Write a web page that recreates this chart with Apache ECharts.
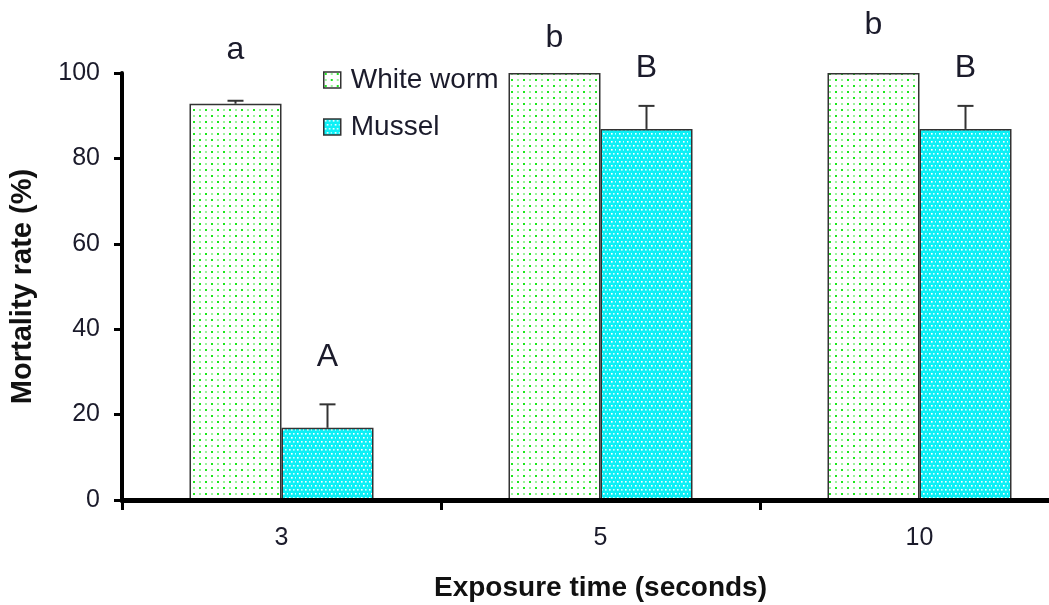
<!DOCTYPE html>
<html>
<head>
<meta charset="utf-8">
<script src="https://cdn.jsdelivr.net/npm/echarts@6/dist/echarts.min.js"></script>
<style>
  html, body { margin: 0; padding: 0; background: #fff; }
  #chart { width: 1049px; height: 605px; }
</style>
</head>
<body>
<div id="chart"></div>
<script>
// exposure time categories and mortality (%)
var categories = ['3', '5', '10'];
var seriesNames = ['White worm', 'Mussel'];
var whiteWorm = [92.8, 100, 100];
var whiteWormErr = [0.7, 0, 0];
var mussel = [16.9, 86.9, 86.9];
var musselErr = [5.5, 5.4, 5.4];
var yTicks = [0, 20, 40, 60, 80, 100];

// significance letters: category, bar (0 = white worm, 1 = mussel), height in %, text
var letterCat = [0, 1, 2, 0, 1, 2];
var letterBar = [0, 0, 0, 1, 1, 1];
var letterY = [105.4, 108.2, 111.2, 33.5, 101.2, 101.2];
var letterText = ['a', 'b', 'b', 'A', 'B', 'B'];

var BAR_W = 92;

function makePattern(bg, dots, size, dot) {
    var c = document.createElement('canvas');
    c.width = size; c.height = size;
    var ctx = c.getContext('2d');
    ctx.fillStyle = bg;
    ctx.fillRect(0, 0, size, size);
    dots.forEach(function (d) {
        ctx.fillStyle = d[2];
        ctx.fillRect(d[0], d[1], dot, dot);
    });
    return { image: c, repeat: 'repeat' };
}

var wormFill = makePattern('#ffffff', [
    [1, 1, '#1ee61e'], [7, 7, '#1ee61e'], [7, 1, '#9cf29c'], [1, 7, '#9cf29c']
], 12, 2);
var musselFill = makePattern('#0cf0f6', [
    [1, 1, '#ffffff'], [5, 1, '#d8feff'], [3, 5, '#ffffff'], [7, 5, '#d8feff']
], 8, 1.6);

var chart = echarts.init(document.getElementById('chart'));

function errItem(offset) {
    return function (params, api) {
        var top = api.value(1) + api.value(2);
        if (api.value(2) <= 0) return null;
        var p0 = api.coord([api.value(0), api.value(1)]);
        var p1 = api.coord([api.value(0), top]);
        var x = p0[0] + offset;
        var style = { stroke: '#333', lineWidth: 2 };
        return {
            type: 'group',
            children: [
                { type: 'line', shape: { x1: x, y1: p0[1], x2: x, y2: p1[1] }, style: style },
                { type: 'line', shape: { x1: x - 8, y1: p1[1], x2: x + 8, y2: p1[1] }, style: style }
            ]
        };
    };
}

var option = {
    animation: false,
    backgroundColor: '#fff',
    grid: { left: 122, right: -30, top: 73, bottom: 105, containLabel: false, outerBoundsMode: 'none' },
    legend: {
        orient: 'vertical',
        left: 323,
        top: 66,
        padding: 0,
        itemWidth: 17,
        itemHeight: 16,
        itemGap: 19,
        icon: 'rect',
        itemStyle: { borderColor: '#333', borderWidth: 1.5 },
        textStyle: { fontFamily: 'Liberation Sans, Arial', fontSize: 28, color: '#1b1b2b', padding: [0, 0, 0, 5] },
        data: seriesNames
    },
    xAxis: {
        type: 'category',
        data: categories,
        z: 5,
        name: 'Exposure time (seconds)',
        nameLocation: 'middle',
        nameGap: 74,
        nameTextStyle: { fontFamily: 'Liberation Sans, Arial', fontWeight: 'bold', fontSize: 28, color: '#111' },
        axisLine: { lineStyle: { color: '#000', width: 5 } },
        axisTick: { show: true, length: 10, lineStyle: { color: '#000', width: 3 } },
        axisLabel: { margin: 26, fontFamily: 'Liberation Sans, Arial', fontSize: 25, color: '#1b1b2b' }
    },
    yAxis: {
        type: 'value',
        min: 0,
        max: 100,
        interval: 20,
        z: 5,
        name: 'Mortality rate (%)',
        nameLocation: 'middle',
        nameGap: 85,
        nameTextStyle: { fontFamily: 'Liberation Sans, Arial', fontWeight: 'bold', fontSize: 29, color: '#111' },
        axisLine: { show: true, lineStyle: { color: '#000', width: 4 } },
        axisTick: { show: true, length: 8, lineStyle: { color: '#000', width: 3 } },
        axisLabel: {
            margin: 22,
            fontFamily: 'Liberation Sans, Arial',
            fontSize: 25,
            color: '#1b1b2b',
            formatter: function (v) { return yTicks.indexOf(v) >= 0 ? String(v) : ''; }
        },
        splitLine: { show: false }
    },
    series: [
        {
            name: seriesNames[0],
            type: 'bar',
            barWidth: BAR_W,
            barGap: '0%',
            itemStyle: { color: wormFill, borderColor: '#333', borderWidth: 1.5 },
            data: whiteWorm
        },
        {
            name: seriesNames[1],
            type: 'bar',
            barWidth: BAR_W,
            barGap: '0%',
            itemStyle: { color: musselFill, borderColor: '#333', borderWidth: 1.5 },
            data: mussel
        },
        {
            type: 'custom',
            z: 4,
            renderItem: errItem(-BAR_W / 2),
            data: whiteWorm.map(function (v, i) { return [i, v, whiteWormErr[i]]; })
        },
        {
            type: 'custom',
            z: 4,
            renderItem: errItem(BAR_W / 2),
            data: mussel.map(function (v, i) { return [i, v, musselErr[i]]; })
        },
        {
            type: 'custom',
            z: 6,
            clip: false,
            renderItem: function (params, api) {
                var i = params.dataIndex;
                var p = api.coord([api.value(0), api.value(1)]);
                var off = letterBar[i] === 0 ? -BAR_W / 2 : BAR_W / 2;
                return {
                    type: 'text',
                    x: p[0] + off,
                    y: p[1],
                    style: {
                        text: letterText[i],
                        fill: '#1b1b2b',
                        font: '32px "Liberation Sans", Arial',
                        textAlign: 'center',
                        textVerticalAlign: 'middle'
                    }
                };
            },
            data: letterCat.map(function (c, i) { return [c, letterY[i]]; })
        }
    ]
};

chart.setOption(option);
window.addEventListener('resize', function () { chart.resize(); });
</script>
</body>
</html>
